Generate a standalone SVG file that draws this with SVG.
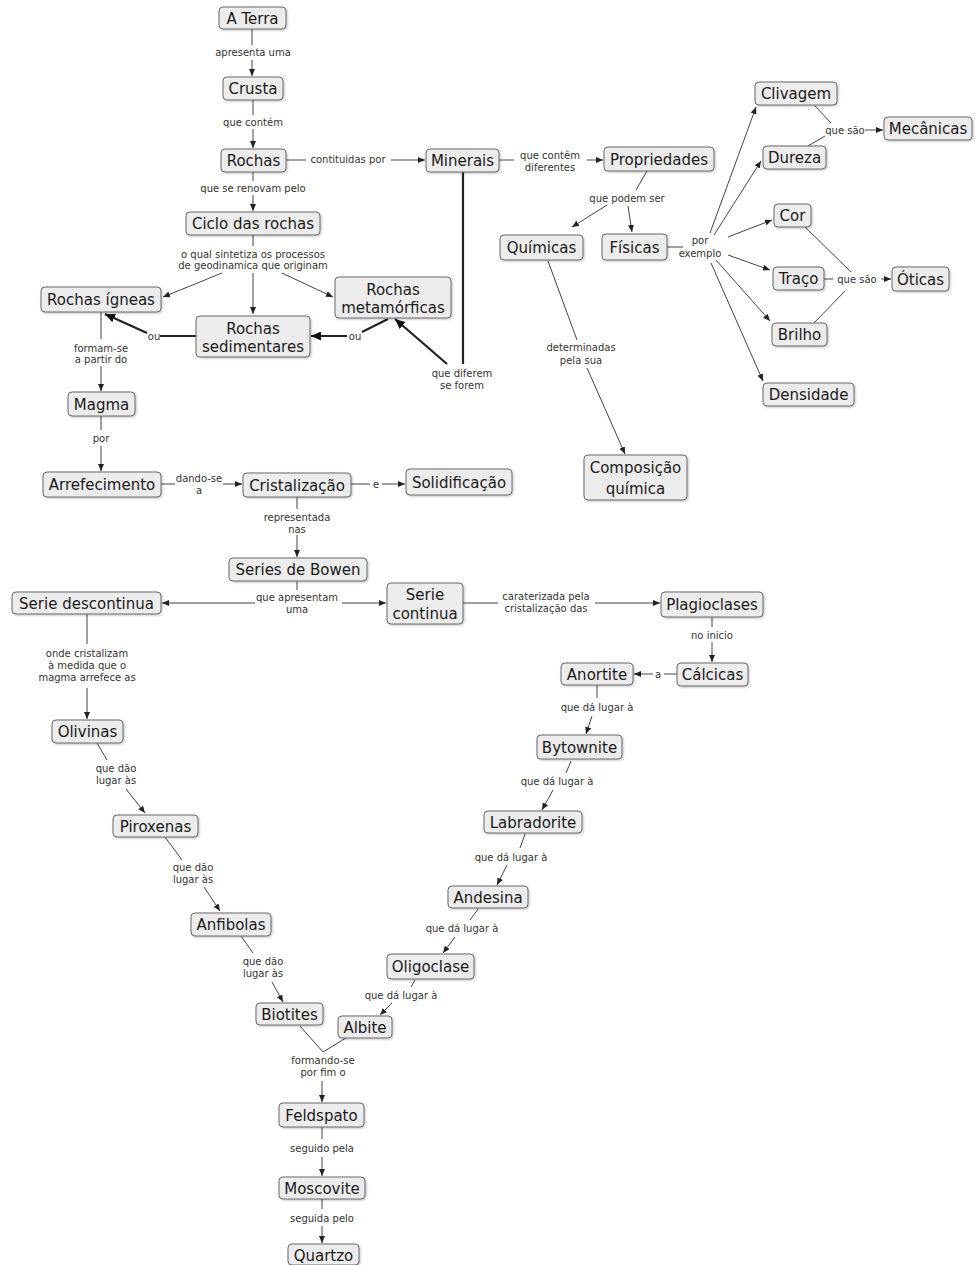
<svg xmlns="http://www.w3.org/2000/svg" width="975" height="1265" viewBox="0 0 975 1265">
<style>
.n rect{fill:#ececec;stroke:#6a6a6a;stroke-width:1}
.n text{font-family:"DejaVu Sans",Verdana,sans-serif;font-size:15px;fill:#1a1a1a;text-anchor:middle}
.l{font-family:"DejaVu Sans",Verdana,sans-serif;font-size:10px;fill:#333;text-anchor:middle}
.c line{stroke:#444;stroke-width:1;fill:none}
.c line.t{stroke:#222;stroke-width:2.2}
.a{marker-end:url(#ah)}
.c line.ta{marker-end:url(#aht)}
</style>
<defs>
<marker id="ah" markerUnits="userSpaceOnUse" markerWidth="7" markerHeight="6" refX="7" refY="3" orient="auto"><path d="M0,0 L7,3 L0,6 z" fill="#222"/></marker>
<marker id="aht" markerUnits="userSpaceOnUse" markerWidth="10" markerHeight="9" refX="10" refY="4.5" orient="auto"><path d="M0,0 L10,4.5 L0,9 z" fill="#111"/></marker>
<filter id="sh" x="-10%" y="-10%" width="130%" height="140%"><feDropShadow dx="1" dy="1" stdDeviation="0.8" flood-color="#000" flood-opacity="0.25"/></filter>
</defs>
<rect width="975" height="1265" fill="#fff"/>

<g id="connectors" class="c">
<line x1="252" y1="29" x2="252" y2="45"/>
<line class="a" x1="252" y1="60" x2="252" y2="76"/>
<line x1="253" y1="100" x2="253" y2="115"/>
<line class="a" x1="253" y1="129" x2="253" y2="148"/>
<line x1="253" y1="172" x2="253" y2="181"/>
<line class="a" x1="253" y1="195" x2="253" y2="211"/>
<line x1="286" y1="160" x2="306" y2="160"/>
<line class="a" x1="391" y1="160" x2="425" y2="160"/>
<line x1="253" y1="235" x2="253" y2="246"/>
<line class="a" x1="222" y1="273" x2="163" y2="297"/>
<line class="a" x1="253" y1="273" x2="253" y2="314"/>
<line class="a" x1="282" y1="273" x2="333" y2="297"/>
<line class="t" x1="196" y1="336" x2="160" y2="336"/>
<line class="t ta" x1="147" y1="333" x2="105" y2="314"/>
<line class="t" x1="388" y1="319" x2="362" y2="332"/>
<line class="t ta" x1="347" y1="336" x2="311" y2="336"/>
<line class="t" x1="463" y1="172" x2="463" y2="364"/>
<line class="t ta" x1="447" y1="364" x2="395" y2="319"/>
<line x1="101" y1="312" x2="101" y2="339"/>
<line class="a" x1="101" y1="366" x2="101" y2="391"/>
<line x1="101" y1="416" x2="101" y2="430"/>
<line class="a" x1="101" y1="446" x2="101" y2="471"/>
<line x1="161" y1="484" x2="175" y2="484"/>
<line class="a" x1="223" y1="484" x2="242" y2="484"/>
<line x1="351" y1="484" x2="370" y2="484"/>
<line class="a" x1="382" y1="484" x2="405" y2="484"/>
<line x1="297" y1="497" x2="297" y2="509"/>
<line class="a" x1="297" y1="535" x2="297" y2="557"/>
<line x1="499" y1="160" x2="514" y2="160"/>
<line class="a" x1="587" y1="160" x2="603" y2="160"/>
<line x1="647" y1="171" x2="636" y2="190"/>
<line class="a" x1="607" y1="205" x2="572" y2="227"/>
<line class="a" x1="628" y1="206" x2="632" y2="232"/>
<line x1="548" y1="261" x2="577" y2="340"/>
<line class="a" x1="587" y1="368" x2="625" y2="454"/>
<line x1="667" y1="247" x2="683" y2="247"/>
<line class="a" x1="710" y1="233" x2="756" y2="107"/>
<line class="a" x1="714" y1="235" x2="761" y2="161"/>
<line class="a" x1="728" y1="237" x2="772" y2="220"/>
<line class="a" x1="728" y1="255" x2="770" y2="270"/>
<line class="a" x1="716" y1="260" x2="770" y2="321"/>
<line class="a" x1="711" y1="263" x2="763" y2="381"/>
<line x1="815" y1="106" x2="831" y2="123"/>
<line x1="808" y1="146" x2="825" y2="136"/>
<line class="a" x1="865" y1="130" x2="883" y2="130"/>
<line x1="805" y1="227" x2="851" y2="272"/>
<line x1="813" y1="324" x2="845" y2="291"/>
<line x1="824" y1="279" x2="833" y2="279"/>
<line class="a" x1="881" y1="279" x2="891" y2="279"/>
<line x1="297" y1="581" x2="297" y2="590"/>
<line class="a" x1="255" y1="603" x2="162" y2="603"/>
<line class="a" x1="342" y1="603" x2="386" y2="603"/>
<line x1="87" y1="614" x2="87" y2="644"/>
<line class="a" x1="87" y1="688" x2="87" y2="719"/>
<line x1="463" y1="603" x2="498" y2="603"/>
<line class="a" x1="595" y1="603" x2="660" y2="603"/>
<line x1="712" y1="617" x2="712" y2="627"/>
<line class="a" x1="712" y1="642" x2="712" y2="662"/>
<line x1="677" y1="674" x2="664" y2="674"/>
<line class="a" x1="653" y1="674" x2="634" y2="674"/>
<line x1="97" y1="743" x2="107" y2="760"/>
<line class="a" x1="126" y1="789" x2="145" y2="813"/>
<line x1="165" y1="837" x2="182" y2="860"/>
<line class="a" x1="204" y1="887" x2="220" y2="911"/>
<line x1="241" y1="936" x2="253" y2="953"/>
<line class="a" x1="272" y1="982" x2="283" y2="1002"/>
<line x1="597" y1="685" x2="597" y2="698"/>
<line class="a" x1="592" y1="716" x2="586" y2="734"/>
<line x1="571" y1="761" x2="566" y2="773"/>
<line class="a" x1="553" y1="790" x2="542" y2="810"/>
<line x1="525" y1="834" x2="520" y2="848"/>
<line class="a" x1="507" y1="865" x2="497" y2="885"/>
<line x1="478" y1="909" x2="470" y2="920"/>
<line class="a" x1="455" y1="937" x2="443" y2="953"/>
<line x1="415" y1="980" x2="411" y2="987"/>
<line class="a" x1="392" y1="1003" x2="380" y2="1015"/>
<line x1="300" y1="1026" x2="323" y2="1052"/>
<line x1="346" y1="1038" x2="323" y2="1052"/>
<line class="a" x1="322" y1="1081" x2="322" y2="1102"/>
<line x1="322" y1="1127" x2="322" y2="1139"/>
<line class="a" x1="322" y1="1157" x2="322" y2="1176"/>
<line x1="322" y1="1199" x2="322" y2="1209"/>
<line class="a" x1="322" y1="1226" x2="322" y2="1243"/>
</g>

<g id="labels">
<text class="l" x="253" y="55.5">apresenta uma</text>
<text class="l" x="253" y="125.5">que contém</text>
<text class="l" x="348" y="162.5">contituidas por</text>
<text class="l" x="253" y="191.5">que se renovam pelo</text>
<text class="l" x="253" y="257.5">o qual sintetiza os processos</text>
<text class="l" x="253" y="268.5">de geodinamica que originam</text>
<text class="l" x="154" y="339.5">ou</text>
<text class="l" x="355" y="339.5">ou</text>
<text class="l" x="462" y="376.5">que diferem</text>
<text class="l" x="462" y="388.5">se forem</text>
<text class="l" x="101" y="351.5">formam-se</text>
<text class="l" x="101" y="362.5">a partir do</text>
<text class="l" x="101" y="441.5">por</text>
<text class="l" x="199" y="481.5">dando-se</text>
<text class="l" x="199" y="493.5">a</text>
<text class="l" x="376" y="487.5">e</text>
<text class="l" x="297" y="520.5">representada</text>
<text class="l" x="297" y="532.5">nas</text>
<text class="l" x="550" y="158.5">que contêm</text>
<text class="l" x="550" y="170.5">diferentes</text>
<text class="l" x="627" y="201.5">que podem ser</text>
<text class="l" x="700" y="243.5">por</text>
<text class="l" x="700" y="256.5">exemplo</text>
<text class="l" x="845" y="133.5">que são</text>
<text class="l" x="857" y="282.5">que são</text>
<text class="l" x="581" y="350.5">determinadas</text>
<text class="l" x="581" y="363.5">pela sua</text>
<text class="l" x="297" y="600.5">que apresentam</text>
<text class="l" x="297" y="612.5">uma</text>
<text class="l" x="87" y="656.5">onde cristalizam</text>
<text class="l" x="87" y="668.5">à medida que o</text>
<text class="l" x="87" y="680.5">magma arrefece as</text>
<text class="l" x="546" y="599.5">caraterizada pela</text>
<text class="l" x="546" y="611.5">cristalização das</text>
<text class="l" x="712" y="638.5">no inicio</text>
<text class="l" x="658" y="677.5">a</text>
<text class="l" x="116" y="771.5">que dão</text>
<text class="l" x="116" y="783.5">lugar às</text>
<text class="l" x="193" y="870.5">que dão</text>
<text class="l" x="193" y="882.5">lugar às</text>
<text class="l" x="263" y="964.5">que dão</text>
<text class="l" x="263" y="976.5">lugar às</text>
<text class="l" x="597" y="710.5">que dá lugar à</text>
<text class="l" x="557" y="784.5">que dá lugar à</text>
<text class="l" x="511" y="860.5">que dá lugar à</text>
<text class="l" x="462" y="931.5">que dá lugar à</text>
<text class="l" x="401" y="998.5">que dá lugar à</text>
<text class="l" x="323" y="1063.5">formando-se</text>
<text class="l" x="323" y="1075.5">por fim o</text>
<text class="l" x="322" y="1151.5">seguido pela</text>
<text class="l" x="322" y="1221.5">seguida pelo</text>
</g>

<g id="n-aterra" class="n"><rect x="219" y="7" width="67" height="22" rx="4" filter="url(#sh)"/><text x="252.5" y="23.5">A Terra</text></g>
<g id="n-crusta" class="n"><rect x="223" y="77" width="60" height="23" rx="4" filter="url(#sh)"/><text x="253" y="94">Crusta</text></g>
<g id="n-rochas" class="n"><rect x="221" y="149" width="65" height="23" rx="4" filter="url(#sh)"/><text x="253.5" y="166">Rochas</text></g>
<g id="n-ciclo" class="n"><rect x="186" y="212" width="134" height="23" rx="4" filter="url(#sh)"/><text x="253" y="229">Ciclo das rochas</text></g>
<g id="n-minerais" class="n"><rect x="426" y="149" width="73" height="23" rx="4" filter="url(#sh)"/><text x="462.5" y="166">Minerais</text></g>
<g id="n-igneas" class="n"><rect x="41" y="287" width="120" height="25" rx="4" filter="url(#sh)"/><text x="101" y="305">Rochas ígneas</text></g>
<g id="n-metamorficas" class="n"><rect x="335" y="277" width="116" height="41" rx="4" filter="url(#sh)"/><text x="393" y="294.5">Rochas</text><text x="393" y="312.5">metamórficas</text></g>
<g id="n-sedimentares" class="n"><rect x="196" y="316" width="114" height="41" rx="4" filter="url(#sh)"/><text x="253" y="333.5">Rochas</text><text x="253" y="351.5">sedimentares</text></g>
<g id="n-magma" class="n"><rect x="68" y="392" width="67" height="24" rx="4" filter="url(#sh)"/><text x="101.5" y="409.5">Magma</text></g>
<g id="n-arrefecimento" class="n"><rect x="43" y="472" width="118" height="25" rx="4" filter="url(#sh)"/><text x="102" y="490">Arrefecimento</text></g>
<g id="n-cristalizacao" class="n"><rect x="243" y="473" width="108" height="24" rx="4" filter="url(#sh)"/><text x="297" y="490.5">Cristalização</text></g>
<g id="n-solidificacao" class="n"><rect x="406" y="469" width="106" height="26" rx="4" filter="url(#sh)"/><text x="459" y="487.5">Solidificação</text></g>
<g id="n-propriedades" class="n"><rect x="604" y="147" width="110" height="24" rx="4" filter="url(#sh)"/><text x="659" y="164.5">Propriedades</text></g>
<g id="n-clivagem" class="n"><rect x="755" y="82" width="82" height="23" rx="4" filter="url(#sh)"/><text x="796" y="99">Clivagem</text></g>
<g id="n-mecanicas" class="n"><rect x="884" y="117" width="88" height="23" rx="4" filter="url(#sh)"/><text x="928" y="134">Mecânicas</text></g>
<g id="n-dureza" class="n"><rect x="763" y="146" width="63" height="23" rx="4" filter="url(#sh)"/><text x="794.5" y="163">Dureza</text></g>
<g id="n-quimicas" class="n"><rect x="500" y="235" width="83" height="25" rx="4" filter="url(#sh)"/><text x="541.5" y="253">Químicas</text></g>
<g id="n-fisicas" class="n"><rect x="602" y="234" width="65" height="26" rx="4" filter="url(#sh)"/><text x="634.5" y="252.5">Físicas</text></g>
<g id="n-cor" class="n"><rect x="774" y="204" width="37" height="23" rx="4" filter="url(#sh)"/><text x="792.5" y="221">Cor</text></g>
<g id="n-traco" class="n"><rect x="773" y="267" width="51" height="23" rx="4" filter="url(#sh)"/><text x="798.5" y="284">Traço</text></g>
<g id="n-oticas" class="n"><rect x="892" y="267" width="57" height="24" rx="4" filter="url(#sh)"/><text x="920.5" y="284.5">Óticas</text></g>
<g id="n-brilho" class="n"><rect x="772" y="323" width="55" height="23" rx="4" filter="url(#sh)"/><text x="799.5" y="340">Brilho</text></g>
<g id="n-densidade" class="n"><rect x="763" y="383" width="91" height="23" rx="4" filter="url(#sh)"/><text x="808.5" y="400">Densidade</text></g>
<g id="n-composicao" class="n"><rect x="584" y="455" width="103" height="45" rx="4" filter="url(#sh)"/><text x="635.5" y="472.5">Composição</text><text x="635.5" y="493.5">química</text></g>
<g id="n-bowen" class="n"><rect x="229" y="558" width="138" height="23" rx="4" filter="url(#sh)"/><text x="298" y="575">Series de Bowen</text></g>
<g id="n-descontinua" class="n"><rect x="12" y="592" width="149" height="22" rx="4" filter="url(#sh)"/><text x="86.5" y="608.5">Serie descontinua</text></g>
<g id="n-continua" class="n"><rect x="387" y="583" width="76" height="41" rx="4" filter="url(#sh)"/><text x="425" y="599.5">Serie</text><text x="425" y="618.5">continua</text></g>
<g id="n-plagioclases" class="n"><rect x="661" y="592" width="102" height="25" rx="4" filter="url(#sh)"/><text x="712" y="610">Plagioclases</text></g>
<g id="n-calcicas" class="n"><rect x="677" y="663" width="71" height="23" rx="4" filter="url(#sh)"/><text x="712.5" y="680">Cálcicas</text></g>
<g id="n-anortite" class="n"><rect x="561" y="663" width="72" height="22" rx="4" filter="url(#sh)"/><text x="597" y="679.5">Anortite</text></g>
<g id="n-bytownite" class="n"><rect x="537" y="735" width="85" height="24" rx="4" filter="url(#sh)"/><text x="579.5" y="752.5">Bytownite</text></g>
<g id="n-labradorite" class="n"><rect x="484" y="811" width="98" height="22" rx="4" filter="url(#sh)"/><text x="533" y="827.5">Labradorite</text></g>
<g id="n-andesina" class="n"><rect x="448" y="886" width="80" height="22" rx="4" filter="url(#sh)"/><text x="488" y="902.5">Andesina</text></g>
<g id="n-oligoclase" class="n"><rect x="387" y="954" width="87" height="25" rx="4" filter="url(#sh)"/><text x="430.5" y="972">Oligoclase</text></g>
<g id="n-albite" class="n"><rect x="338" y="1016" width="54" height="22" rx="4" filter="url(#sh)"/><text x="365" y="1032.5">Albite</text></g>
<g id="n-olivinas" class="n"><rect x="52" y="720" width="71" height="23" rx="4" filter="url(#sh)"/><text x="87.5" y="737">Olivinas</text></g>
<g id="n-piroxenas" class="n"><rect x="113" y="815" width="85" height="22" rx="4" filter="url(#sh)"/><text x="155.5" y="831.5">Piroxenas</text></g>
<g id="n-anfibolas" class="n"><rect x="191" y="913" width="80" height="23" rx="4" filter="url(#sh)"/><text x="231" y="930">Anfibolas</text></g>
<g id="n-biotites" class="n"><rect x="256" y="1003" width="67" height="22" rx="4" filter="url(#sh)"/><text x="289.5" y="1019.5">Biotites</text></g>
<g id="n-feldspato" class="n"><rect x="279" y="1103" width="85" height="24" rx="4" filter="url(#sh)"/><text x="321.5" y="1120.5">Feldspato</text></g>
<g id="n-moscovite" class="n"><rect x="279" y="1177" width="86" height="22" rx="4" filter="url(#sh)"/><text x="322" y="1193.5">Moscovite</text></g>
<g id="n-quartzo" class="n"><rect x="288" y="1244" width="71" height="21" rx="4" filter="url(#sh)"/><text x="323.5" y="1260.5">Quartzo</text></g>
</svg>
